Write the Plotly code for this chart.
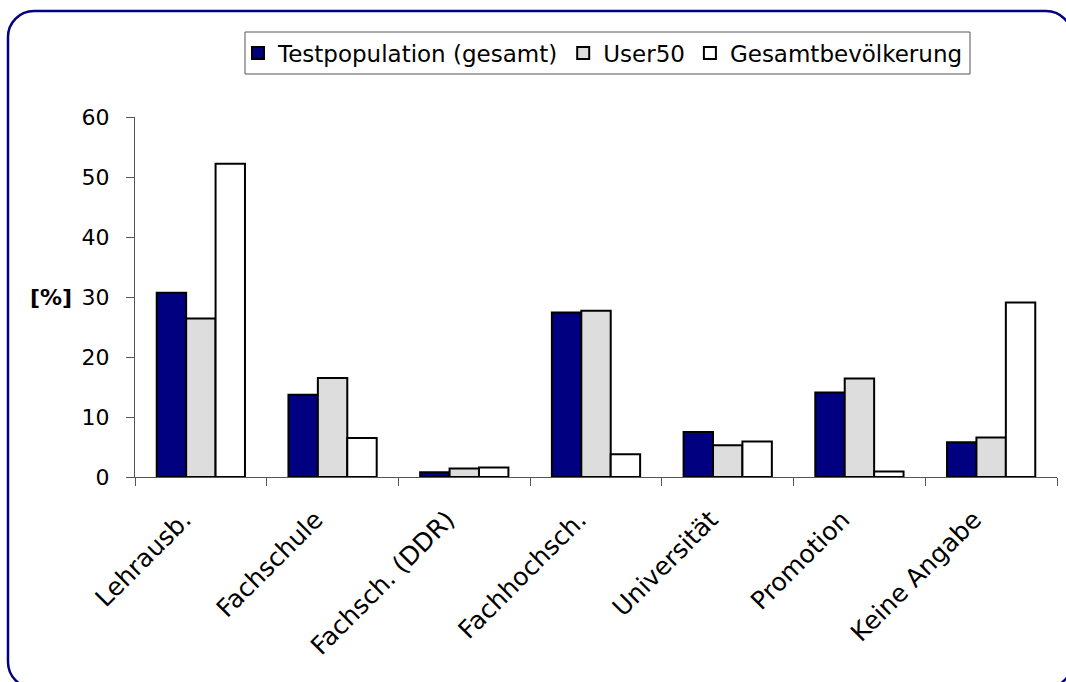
import plotly.graph_objects as go

# Bildungsabschluss: Anteile in Prozent
categories = ["Lehrausb.", "Fachschule", "Fachsch. (DDR)", "Fachhochsch.",
              "Universität", "Promotion", "Keine Angabe"]
testpopulation = [30.7, 13.7, 0.8, 27.4, 7.5, 14.1, 5.8]
user50 = [26.4, 16.5, 1.4, 27.7, 5.3, 16.4, 6.6]
gesamtbevoelkerung = [52.2, 6.5, 1.6, 3.8, 5.9, 0.9, 29.1]
y_ticks = [0, 10, 20, 30, 40, 50, 60]

W, H = 1066, 682
ML, MR, MT, MB = 135, 9, 117, 205
PW, PH = W - ML - MR, H - MT - MB

FONT = "DejaVu Sans, Arial, sans-serif"
OUTLINE = dict(color="black", width=2)

fig = go.Figure()
series = [
    ("Testpopulation (gesamt)", testpopulation, "#000080"),
    ("User50", user50, "#DDDDDD"),
    ("Gesamtbevölkerung", gesamtbevoelkerung, "#FFFFFF"),
]
for name, vals, col in series:
    fig.add_trace(go.Bar(name=name, x=categories, y=vals,
                         marker=dict(color=col, line=OUTLINE)))


def px(xp):
    return (xp - ML) / PW


def py(yp):
    return (H - MB - yp) / PH


# abgerundeter Rahmen um das ganze Diagramm
x0, y0, x1, y1, r = 8, 11, 1072, 688, 26
k = 0.5523 * r
pts = [
    ("M", (x0 + r, y0)),
    ("L", (x1 - r, y0)),
    ("C", (x1 - r + k, y0), (x1, y0 + r - k), (x1, y0 + r)),
    ("L", (x1, y1 - r)),
    ("C", (x1, y1 - r + k), (x1 - r + k, y1), (x1 - r, y1)),
    ("L", (x0 + r, y1)),
    ("C", (x0 + r - k, y1), (x0, y1 - r + k), (x0, y1 - r)),
    ("L", (x0, y0 + r)),
    ("C", (x0, y0 + r - k), (x0 + r - k, y0), (x0 + r, y0)),
]
path = ""
for cmd, *cs in pts:
    path += cmd + " ".join(f"{px(a):.5f},{py(b):.5f}" for a, b in cs) + " "
path += "Z"

fig.add_shape(type="path", path=path, xref="paper", yref="paper",
              line=dict(color="#000080", width=2.5), layer="above")

# Rahmen der Legende
fig.add_shape(type="rect", xref="paper", yref="paper",
              x0=px(245), x1=px(970), y0=py(74), y1=py(32),
              line=dict(color="#555555", width=1), layer="below")

fig.add_annotation(text="<b>[%]</b>", x=px(74), y=30, xref="paper", yref="y",
                   xanchor="right", yanchor="middle", showarrow=False,
                   font=dict(family=FONT, size=22, color="black"))

fig.update_layout(
    width=W, height=H,
    margin=dict(l=ML, r=MR, t=MT, b=MB, autoexpand=False),
    paper_bgcolor="white", plot_bgcolor="white",
    barmode="group", bargap=0.33, bargroupgap=0,
    font=dict(family=FONT, size=22, color="black"),
    showlegend=True,
    legend=dict(orientation="h", x=px(238), y=py(53),
                xanchor="left", yanchor="middle",
                borderwidth=0, bgcolor="rgba(0,0,0,0)",
                font=dict(family=FONT, size=23, color="black"),
                itemwidth=30, traceorder="normal"),
    xaxis=dict(type="category", tickangle=-45, tickson="boundaries",
               ticks="outside", ticklen=8, tickcolor="#555555",
               showline=True, linecolor="#555555", linewidth=1,
               showgrid=False, zeroline=False,
               ticklabelstandoff=17, ticklabelshift=-17,
               tickfont=dict(family=FONT, size=25, color="black")),
    yaxis=dict(range=[0, 60], tickvals=y_ticks,
               ticks="outside", ticklen=8, tickcolor="#555555",
               showline=True, linecolor="#555555", linewidth=1,
               showgrid=False, zeroline=False, ticklabelstandoff=12,
               tickfont=dict(family=FONT, size=22, color="black")),
)

fig.write_html("out.html")
